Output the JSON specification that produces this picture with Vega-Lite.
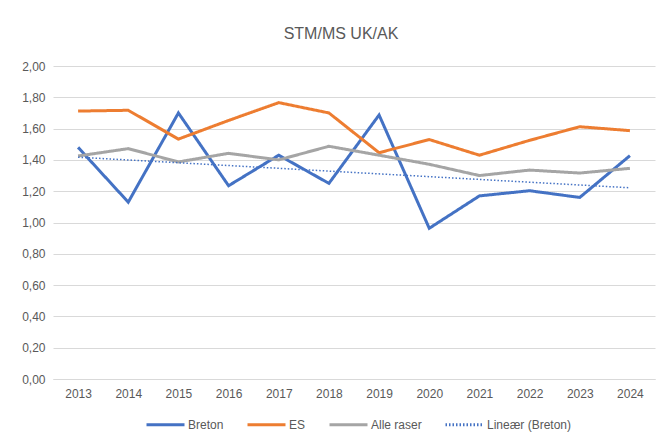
{
  "$schema": "https://vega.github.io/schema/vega-lite/v6.json",
  "width": 602,
  "height": 313,
  "autosize": "none",
  "padding": {"left": 53, "top": 66, "right": 10, "bottom": 58},
  "background": "white",
  "title": {
    "text": "STM/MS UK/AK",
    "font": "Liberation Sans",
    "fontSize": 16,
    "fontWeight": "normal",
    "color": "#595959",
    "anchor": "middle",
    "dx": -13,
    "offset": 18
  },
  "config": {
    "view": {"stroke": null},
    "axis": {
      "labelFont": "Liberation Sans",
      "labelFontSize": 12,
      "labelColor": "#595959",
      "titleFont": "Liberation Sans"
    },
    "legend": {"labelFont": "Liberation Sans", "labelFontSize": 12, "labelColor": "#595959"}
  },
  "data": {
    "values": [
      {"year": "2013", "series": "Breton", "value": 1.48},
      {"year": "2014", "series": "Breton", "value": 1.13},
      {"year": "2015", "series": "Breton", "value": 1.70},
      {"year": "2016", "series": "Breton", "value": 1.235},
      {"year": "2017", "series": "Breton", "value": 1.43},
      {"year": "2018", "series": "Breton", "value": 1.25},
      {"year": "2019", "series": "Breton", "value": 1.687},
      {"year": "2020", "series": "Breton", "value": 0.963},
      {"year": "2021", "series": "Breton", "value": 1.17},
      {"year": "2022", "series": "Breton", "value": 1.203},
      {"year": "2023", "series": "Breton", "value": 1.16},
      {"year": "2024", "series": "Breton", "value": 1.427},
      {"year": "2013", "series": "ES", "value": 1.712},
      {"year": "2014", "series": "ES", "value": 1.717},
      {"year": "2015", "series": "ES", "value": 1.533},
      {"year": "2016", "series": "ES", "value": 1.652},
      {"year": "2017", "series": "ES", "value": 1.766},
      {"year": "2018", "series": "ES", "value": 1.70},
      {"year": "2019", "series": "ES", "value": 1.446},
      {"year": "2020", "series": "ES", "value": 1.53},
      {"year": "2021", "series": "ES", "value": 1.43},
      {"year": "2022", "series": "ES", "value": 1.525},
      {"year": "2023", "series": "ES", "value": 1.612},
      {"year": "2024", "series": "ES", "value": 1.587},
      {"year": "2013", "series": "Alle raser", "value": 1.425},
      {"year": "2014", "series": "Alle raser", "value": 1.472},
      {"year": "2015", "series": "Alle raser", "value": 1.387},
      {"year": "2016", "series": "Alle raser", "value": 1.442},
      {"year": "2017", "series": "Alle raser", "value": 1.40},
      {"year": "2018", "series": "Alle raser", "value": 1.487},
      {"year": "2019", "series": "Alle raser", "value": 1.43},
      {"year": "2020", "series": "Alle raser", "value": 1.372},
      {"year": "2021", "series": "Alle raser", "value": 1.30},
      {"year": "2022", "series": "Alle raser", "value": 1.335},
      {"year": "2023", "series": "Alle raser", "value": 1.316},
      {"year": "2024", "series": "Alle raser", "value": 1.346}
    ]
  },
  "encoding": {
    "x": {
      "field": "year",
      "type": "ordinal",
      "scale": {"type": "point", "padding": 0.5},
      "axis": {
        "title": null,
        "labelAngle": 0,
        "ticks": false,
        "domainColor": "#D9D9D9",
        "labelPadding": 9,
        "grid": false
      }
    },
    "y": {
      "field": "value",
      "type": "quantitative",
      "scale": {"domain": [0, 2], "nice": false},
      "axis": {
        "title": null,
        "values": [0, 0.2, 0.4, 0.6, 0.8, 1.0, 1.2, 1.4, 1.6, 1.8, 2.0],
        "labelOverlap": false,
        "labelExpr": "replace(format(datum.value, '.2f'), '.', ',')",
        "ticks": false,
        "domain": false,
        "gridColor": "#D9D9D9",
        "labelPadding": 8
      }
    }
  },
  "layer": [
    {
      "mark": {"type": "line", "strokeJoin": "miter"},
      "encoding": {
        "color": {
          "field": "series",
          "type": "nominal",
          "scale": {
            "domain": ["Breton", "ES", "Alle raser", "Lineær (Breton)"],
            "range": ["#4472C4", "#ED7D31", "#A5A5A5", "#4472C4"]
          },
          "legend": {
            "title": null,
            "orient": "none",
            "direction": "horizontal",
            "legendX": 92,
            "legendY": 338,
            "symbolType": "stroke",
            "symbolSize": 1444,
            "labelOffset": 2,
            "columnPadding": 17
          }
        },
        "strokeDash": {
          "field": "series",
          "type": "nominal",
          "scale": {
            "domain": ["Breton", "ES", "Alle raser", "Lineær (Breton)"],
            "range": [[1, 0], [1, 0], [1, 0], [1.5, 2]]
          }
        },
        "strokeWidth": {
          "field": "series",
          "type": "nominal",
          "scale": {
            "domain": ["Breton", "ES", "Alle raser", "Lineær (Breton)"],
            "range": [3, 3, 3, 1.5]
          }
        }
      }
    },
    {
      "transform": [
        {"filter": "datum.series === 'Breton'"},
        {"calculate": "toNumber(datum.year)", "as": "yr"},
        {"regression": "value", "on": "yr", "extent": [2013, 2024]},
        {"calculate": "toString(datum.yr)", "as": "year"}
      ],
      "mark": {"type": "line", "strokeWidth": 1.5, "strokeDash": [1.5, 2]},
      "encoding": {
        "color": {"datum": "Lineær (Breton)"}
      }
    }
  ]
}
